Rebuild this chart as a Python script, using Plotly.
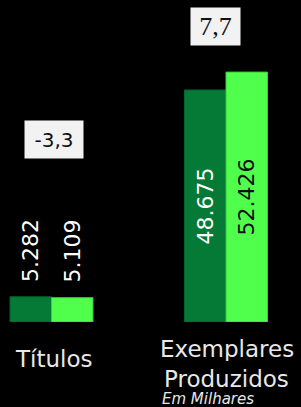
import plotly.graph_objects as go

categories = ["Títulos", "Exemplares<br>Produzidos"]
series_names = ["Anterior", "Atual"]
values_prev = [5.282, 48.675]
values_curr = [5.109, 52.426]
variation = ["-3,3", "7,7"]
note = "Em Milhares"

DARK = "#057a36"
LIGHT = "#50ff4c"
FONT = "DejaVu Sans"

fmt = lambda v: f"{v:.3f}"

fig = go.Figure()
fig.add_trace(go.Bar(
    name=series_names[0], x=[0, 1], y=values_prev,
    marker=dict(color=DARK, line=dict(color="#05632c", width=1)),
    text=["", fmt(values_prev[1])], textposition="inside", insidetextanchor="middle",
    textangle=-90, textfont=dict(family=FONT, size=22, color="white"),
))
fig.add_trace(go.Bar(
    name=series_names[1], x=[0, 1], y=values_curr,
    marker=dict(color=LIGHT, line=dict(color="#3cc83a", width=1)),
    text=["", fmt(values_curr[1])], textposition="inside", insidetextanchor="middle",
    textangle=-90, textfont=dict(family=FONT, size=22, color="#111111"),
))

half = 20.75
anns = []
for v, dx in [(values_prev[0], -half), (values_curr[0], half)]:
    anns.append(dict(x=0, y=v, xref="x", yref="y", xshift=dx, yshift=13,
                     text=fmt(v), textangle=-90, showarrow=False,
                     xanchor="center", yanchor="bottom",
                     font=dict(family=FONT, size=22, color="white")))
anns.append(dict(x=0, xshift=2.5, xref="x", y=0.5668, yref="paper", text=variation[0],
                 showarrow=False, bgcolor="#f2f2f2", width=58, height=37, borderpad=0,
                 xanchor="center", yanchor="middle",
                 font=dict(family=FONT, size=20, color="#111111")))
anns.append(dict(x=1, xshift=-10.5, xref="x", y=0.9177, yref="paper", text=variation[1],
                 showarrow=False, bgcolor="#f2f2f2", width=49, height=37, borderpad=0,
                 xanchor="center", yanchor="middle",
                 font=dict(family="Liberation Serif", size=26, color="#111111")))
anns.append(dict(x=0, xshift=1.5, xref="x", y=-0.115, yref="paper", text=categories[0],
                 showarrow=False, xanchor="center", yanchor="middle",
                 font=dict(family=FONT, size=23, color="#e8e8e8")))
lines = categories[1].split("<br>")
for line, py in zip(lines, [349, 379]):
    anns.append(dict(x=1, xshift=0.5, xref="x", y=(322 - py) / 322, yref="paper", text=line,
                     showarrow=False, xanchor="center", yanchor="middle", height=24,
                     font=dict(family=FONT, size=23, color="#e8e8e8")))
anns.append(dict(x=160/301, xref="paper", y=(322 - 398.5) / 322, yref="paper", text=f"<i>{note}</i>",
                 showarrow=False, xanchor="left", yanchor="middle", height=16,
                 font=dict(family=FONT, size=15, color="#e8e8e8")))

fig.update_layout(
    width=301, height=407,
    margin=dict(l=0, r=0, t=0, b=85),
    paper_bgcolor="black", plot_bgcolor="black",
    barmode="group", bargap=0.5244, bargroupgap=0,
    showlegend=False,
    xaxis=dict(range=[-0.2951, 1.4298], visible=False, fixedrange=True),
    yaxis=dict(range=[0, 67.55], visible=False, fixedrange=True),
    annotations=anns,
)
fig.write_html("out.html", config={"displayModeBar": False},
               post_script="document.body.style.margin='0';document.body.style.background='black';")
